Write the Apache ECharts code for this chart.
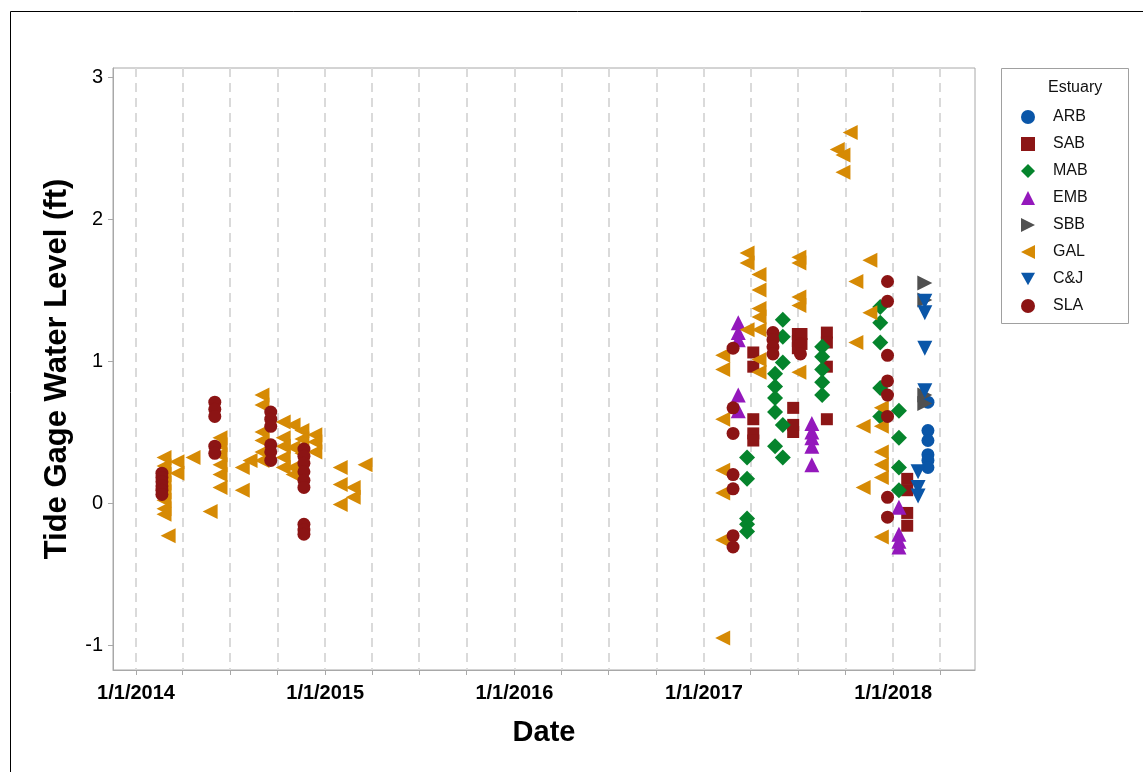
<!DOCTYPE html>
<html><head><meta charset="utf-8">
<script src="https://cdn.jsdelivr.net/npm/echarts@6/dist/echarts.min.js"></script>
<style>html,body{margin:0;padding:0;background:#fff}#c{width:1143px;height:772px}</style>
</head><body><div id="c"></div>
<script>
// Series names (legend order)
const seriesNames = ['ARB', 'SAB', 'MAB', 'EMB', 'SBB', 'GAL', 'C&J', 'SLA'];

// Each entry: [sample date, [water levels (ft) read at that date]]
const ARB = [['2018-03-09', [0.71, 0.51, 0.44, 0.34, 0.30, 0.25]]];
const SAB = [
  ['2017-04-06', [1.06, 0.96, 0.59, 0.49, 0.44]],
  ['2017-06-22', [0.67, 0.55, 0.50]],
  ['2017-07-01', [1.19, 1.14, 1.09]],
  ['2017-07-08', [1.19, 1.12]],
  ['2017-08-26', [1.20, 1.13, 0.96, 0.59]],
  ['2018-01-28', [0.17, 0.09, -0.07, -0.16]]
];
const MAB = [
  ['2017-03-25', [0.32, 0.17, -0.11, -0.15, -0.20]],
  ['2017-05-18', [0.91, 0.82, 0.74, 0.64, 0.40]],
  ['2017-06-02', [1.29, 1.17, 0.99, 0.55, 0.32]],
  ['2017-08-17', [1.10, 1.03, 0.94, 0.85, 0.76]],
  ['2017-12-07', [1.38, 1.27, 1.13, 0.81, 0.61]],
  ['2018-01-12', [0.65, 0.46, 0.25, 0.09]]
];
const EMB = [
  ['2017-03-08', [1.27, 1.20, 1.15, 0.76, 0.65]],
  ['2017-07-28', [0.56, 0.50, 0.46, 0.40, 0.27]],
  ['2018-01-12', [-0.03, -0.22, -0.27, -0.31]]
];
const SBB = [['2018-03-03', [1.55, 1.43, 0.76, 0.70]]];
const GAL = [
  ['2014-02-24', [0.32, 0.26, 0.20, 0.14, 0.08, 0.02, -0.04, -0.08]],
  ['2014-03-04', [-0.23]],
  ['2014-03-21', [0.29, 0.21]],
  ['2014-04-21', [0.32]],
  ['2014-05-24', [-0.06]],
  ['2014-06-12', [0.46, 0.41, 0.34, 0.27, 0.20, 0.11]],
  ['2014-07-25', [0.25, 0.09]],
  ['2014-08-09', [0.30]],
  ['2014-09-01', [0.76, 0.69, 0.50, 0.44, 0.36, 0.30]],
  ['2014-10-12', [0.57, 0.46, 0.40, 0.32, 0.25]],
  ['2014-10-31', [0.55, 0.39, 0.25, 0.20]],
  ['2014-11-17', [0.51, 0.45, 0.35]],
  ['2014-12-12', [0.48, 0.43, 0.36]],
  ['2015-01-30', [0.25, 0.13, -0.01]],
  ['2015-02-24', [0.11, 0.04]],
  ['2015-03-19', [0.27]],
  ['2017-02-06', [1.04, 0.94, 0.59, 0.23, 0.07, -0.26, -0.95]],
  ['2017-03-25', [1.76, 1.69, 1.22]],
  ['2017-04-17', [1.61, 1.50, 1.37, 1.31, 1.22, 1.01, 0.92]],
  ['2017-07-03', [1.73, 1.69, 1.45, 1.39, 0.92]],
  ['2017-09-15', [2.49]],
  ['2017-09-26', [2.45, 2.33]],
  ['2017-10-10', [2.61]],
  ['2017-10-21', [1.56, 1.13]],
  ['2017-11-04', [0.54, 0.11]],
  ['2017-11-17', [1.71, 1.34]],
  ['2017-12-09', [0.67, 0.54, 0.36, 0.27, 0.18, -0.24]]
];
const CJ = [
  ['2018-03-03', [1.42, 1.34, 1.09, 0.79]],
  ['2018-02-18', [0.22, 0.11, 0.05]]
];
const SLA = [
  ['2014-02-20', [0.21, 0.18, 0.15, 0.12, 0.09, 0.06]],
  ['2014-06-02', [0.71, 0.66, 0.61, 0.40, 0.35]],
  ['2014-09-18', [0.64, 0.59, 0.54, 0.41, 0.36, 0.30]],
  ['2014-11-21', [0.38, 0.33, 0.28, 0.22, 0.16, 0.11, -0.15, -0.19, -0.22]],
  ['2017-02-26', [1.09, 0.67, 0.49, 0.20, 0.10, -0.23, -0.31]],
  ['2017-05-14', [1.20, 1.15, 1.10, 1.05]],
  ['2017-07-06', [1.12, 1.05]],
  ['2017-12-21', [1.56, 1.42, 1.04, 0.86, 0.76, 0.61, 0.04, -0.10]]
];

// Axis ticks
const xLabelDates = ['2014-01-01', '2015-01-01', '2016-01-01', '2017-01-01', '2018-01-01'];
const xTickDates = ['2014-01-01','2014-04-01','2014-07-01','2014-10-01','2015-01-01','2015-04-01','2015-07-01','2015-10-01',
  '2016-01-01','2016-04-01','2016-07-01','2016-10-01','2017-01-01','2017-04-01','2017-07-01','2017-10-01','2018-01-01','2018-04-01'];
const yTicks = [-1, 0, 1, 2, 3];

const ts = s => { const p = s.split('-').map(Number); return Date.UTC(p[0], p[1] - 1, p[2]); };
const DAY = 86400000;
const flat = groups => { const out = []; groups.forEach(g => g[1].forEach(v => out.push([ts(g[0]), v]))); return out; };

const dataByName = { 'ARB': ARB, 'SAB': SAB, 'MAB': MAB, 'EMB': EMB, 'SBB': SBB, 'GAL': GAL, 'C&J': CJ, 'SLA': SLA };
const colors = { 'ARB': '#0a56a8', 'SAB': '#8c1616', 'MAB': '#05842c', 'EMB': '#9418bc', 'SBB': '#505050', 'GAL': '#d68a04', 'C&J': '#0a56a8', 'SLA': '#8c1414' };
const symbols = { 'ARB': 'circle', 'SAB': 'rect', 'MAB': 'diamond', 'EMB': 'triangle', 'SBB': 'triangle', 'GAL': 'triangle', 'C&J': 'triangle', 'SLA': 'circle' };
const rotations = { 'ARB': 0, 'SAB': 0, 'MAB': 0, 'EMB': 0, 'SBB': -90, 'GAL': 90, 'C&J': 180, 'SLA': 0 };
const sizes = { 'ARB': 13, 'SAB': 12, 'MAB': 16, 'EMB': 15, 'SBB': 15, 'GAL': 15, 'C&J': 15, 'SLA': 13 };
// legend icons (rotated triangles drawn as paths)
const legendIcons = {
  'ARB': 'circle', 'SAB': 'rect', 'MAB': 'diamond', 'EMB': 'triangle',
  'SBB': 'path://M10,5L0,0L0,10Z', 'GAL': 'path://M0,5L10,0L10,10Z', 'C&J': 'path://M0,0L10,0L5,9Z', 'SLA': 'circle'
};

const FONT = '"Liberation Sans", Arial, sans-serif';

const chart = echarts.init(document.getElementById('c'), null, { renderer: 'canvas' });
chart.setOption({
  animation: false,
  backgroundColor: '#fff',
  grid: { left: 113, top: 68, right: 168, bottom: 102, show: true, borderColor: '#a8a8a8', borderWidth: 1, backgroundColor: 'transparent' },
  xAxis: {
    type: 'value',
    min: ts('2014-01-01') - 44.4 * DAY,
    max: ts('2018-01-01') + 157.8 * DAY,
    name: 'Date', nameLocation: 'middle', nameGap: 48,
    nameTextStyle: { fontFamily: FONT, fontSize: 29, fontWeight: 'bold', color: '#000' },
    axisLine: { show: true, onZero: false, lineStyle: { color: '#a8a8a8' } },
    axisTick: { show: true, customValues: xTickDates.map(ts), length: 5, lineStyle: { color: '#a8a8a8' } },
    axisLabel: {
      customValues: xLabelDates.map(ts), margin: 13,
      fontFamily: FONT, fontSize: 20, fontWeight: 'bold', color: '#000',
      formatter: v => { const d = new Date(v); return (d.getUTCMonth() + 1) + '/' + d.getUTCDate() + '/' + d.getUTCFullYear(); }
    },
    splitLine: { show: true, lineStyle: { color: '#dadada', width: 2, type: [9, 6] } }
  },
  yAxis: {
    type: 'value',
    min: -1 - 25 / 142, max: 3 + 9 / 142,
    name: 'Tide Gage Water Level (ft)', nameLocation: 'middle', nameGap: 40, nameRotate: 90,
    nameTextStyle: { fontFamily: FONT, fontSize: 31, fontWeight: 'bold', color: '#000' },
    axisLine: { show: true, onZero: false, lineStyle: { color: '#a8a8a8' } },
    axisTick: { show: true, customValues: yTicks, length: 5, lineStyle: { color: '#a8a8a8' } },
    axisLabel: { customValues: yTicks, margin: 10, fontFamily: FONT, fontSize: 20, color: '#000' },
    splitLine: { show: false }
  },
  legend: {
    orient: 'vertical', left: 1016, top: 104,
    itemWidth: 14, itemHeight: 14, itemGap: 11,
    formatter: n => '{g|}' + n,
    textStyle: { fontFamily: FONT, fontSize: 16, lineHeight: 16, color: '#111', rich: { g: { width: 13, lineHeight: 16 } } },
    data: seriesNames.map(n => ({ name: n, icon: legendIcons[n] }))
  },
  graphic: [
    { type: 'rect', silent: true, shape: { x: 10.5, y: 11.5, width: 1300, height: 900 }, style: { fill: 'none', stroke: '#000', lineWidth: 1 } },
    { type: 'rect', silent: true, shape: { x: 1001.5, y: 68.5, width: 127, height: 255 }, style: { fill: 'none', stroke: '#a0a0a0', lineWidth: 1 } },
    { type: 'text', silent: true, left: 1048, top: 80, style: { text: 'Estuary', fontFamily: FONT, fontSize: 16, fill: '#111' } }
  ],
  series: seriesNames.map(n => ({
    name: n, type: 'scatter',
    symbol: symbols[n], symbolRotate: rotations[n], symbolSize: sizes[n],
    itemStyle: { color: colors[n], opacity: 1 },
    data: flat(dataByName[n])
  }))
});
</script></body></html>
